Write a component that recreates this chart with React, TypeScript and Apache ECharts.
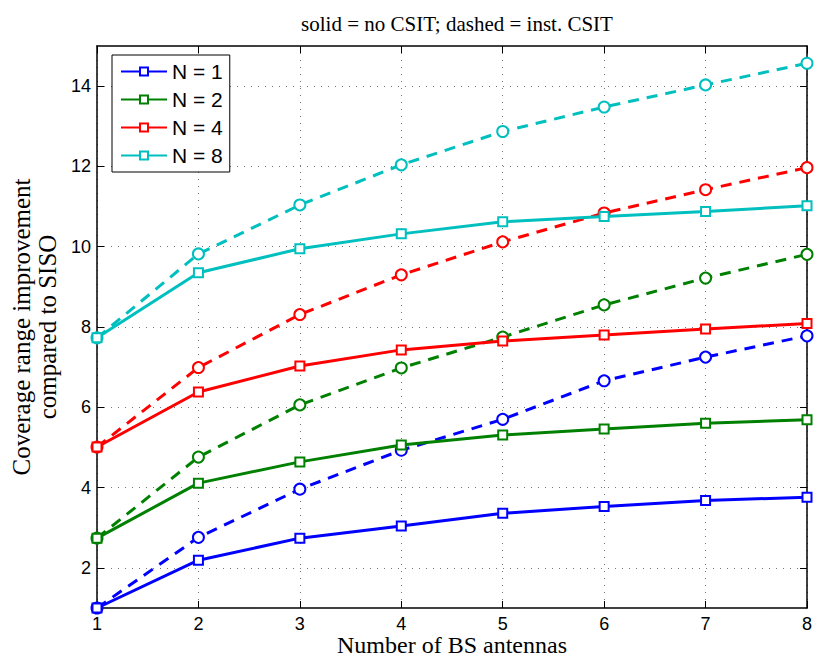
import React, { useEffect, useRef } from "react";
import * as echarts from "echarts";

const antennas = [1, 2, 3, 4, 5, 6, 7, 8];
const yTicks = [2, 4, 6, 8, 10, 12, 14];

const n1NoCsit = [1.0, 2.19, 2.74, 3.04, 3.36, 3.53, 3.68, 3.76];
const n1Inst = [1.0, 2.76, 3.96, 4.93, 5.7, 6.66, 7.25, 7.78];
const n2NoCsit = [2.74, 4.11, 4.64, 5.06, 5.31, 5.46, 5.6, 5.69];
const n2Inst = [2.74, 4.76, 6.06, 6.98, 7.75, 8.55, 9.22, 9.81];
const n4NoCsit = [5.01, 6.38, 7.03, 7.43, 7.65, 7.8, 7.95, 8.09];
const n4Inst = [5.01, 6.99, 8.31, 9.3, 10.12, 10.84, 11.42, 11.97];
const n8NoCsit = [7.73, 9.35, 9.95, 10.32, 10.62, 10.75, 10.88, 11.02];
const n8Inst = [7.73, 9.82, 11.04, 12.04, 12.87, 13.48, 14.03, 14.57];

const names = ["N = 1", "N = 2", "N = 4", "N = 8"];
const colors = ["#0000ff", "#008000", "#ff0000", "#00bfbf"];
const solidData = [n1NoCsit, n2NoCsit, n4NoCsit, n8NoCsit];
const dashedData = [n1Inst, n2Inst, n4Inst, n8Inst];

const serif = "'Liberation Serif', 'Times New Roman', serif";
const sans = "'Liberation Sans', Arial, sans-serif";

export default function App() {
  const ref = useRef<HTMLDivElement>(null);
  useEffect(() => {
    if (!ref.current) return;
    const chart = echarts.init(ref.current, undefined, { renderer: "svg" });
    const pair = (arr: number[]) => antennas.map((x, i) => [x, arr[i]]);
    const series: any[] = [];
    dashedData.forEach((d, i) => {
      series.push({
        name: names[i] + " inst",
        type: "line",
        data: pair(d),
        symbol: "emptyCircle",
        symbolSize: 11,
        color: colors[i],
        lineStyle: { width: 3, type: [11, 8], color: colors[i] },
        itemStyle: { color: colors[i], borderWidth: 2.5 },
        z: 3,
      });
    });
    solidData.forEach((d, i) => {
      series.push({
        name: names[i],
        type: "line",
        data: pair(d),
        symbol: "emptyRect",
        symbolSize: 9,
        color: colors[i],
        lineStyle: { width: 3, color: colors[i] },
        itemStyle: { color: colors[i], borderWidth: 2.5 },
        z: 4,
      });
    });
    const axisLine = { show: true, lineStyle: { color: "#000", width: 1.5 } };
    const grid = { show: true, lineStyle: { color: "#777", type: [1, 6], width: 1 } };
    chart.setOption({
      animation: false,
      title: {
        text: "solid = no CSIT; dashed = inst. CSIT",
        left: 452,
        top: 8,
        textAlign: "center",
        textStyle: { fontFamily: serif, fontSize: 21, fontWeight: "normal", color: "#000" },
      },
      legend: {
        data: names,
        orient: "vertical",
        left: 112,
        top: 55,
        itemWidth: 46,
        itemHeight: 10,
        itemGap: 7,
        padding: [6, 7, 6, 8],
        borderColor: "#000",
        borderWidth: 1,
        backgroundColor: "#fff",
        textStyle: { fontFamily: sans, fontSize: 21, color: "#000" },
      },
      grid: { left: 97, right: 8, top: 46, bottom: 54, outerBoundsMode: "none", containLabel: false },
      xAxis: [
        {
          type: "value",
          min: 1,
          max: 8,
          interval: 1,
          name: "Number of BS antennas",
          nameLocation: "middle",
          nameGap: 25,
          nameMoveOverlap: false,
          nameTextStyle: { fontFamily: serif, fontSize: 24, lineHeight: 24, color: "#000", verticalAlign: "top" },
          axisLine,
          axisTick: { show: true, inside: true, length: 7, lineStyle: { color: "#000" } },
          axisLabel: { fontFamily: sans, fontSize: 18, lineHeight: 18, color: "#000", margin: 7 },
          splitLine: grid,
        },
        {
          type: "value",
          position: "top",
          min: 1,
          max: 8,
          interval: 1,
          axisLine,
          axisTick: { show: true, inside: true, length: 7, lineStyle: { color: "#000" } },
          axisLabel: { show: false },
          splitLine: { show: false },
        },
      ],
      yAxis: [
        {
          type: "value",
          min: 1,
          max: 15,
          name: "Coverage range improvement\ncompared to SISO",
          nameLocation: "middle",
          nameGap: 32,
          nameTextStyle: { fontFamily: serif, fontSize: 25, color: "#000", lineHeight: 26 },
          axisLine,
          axisTick: { show: true, inside: true, length: 7, customValues: yTicks, lineStyle: { color: "#000" } },
          axisLabel: { fontFamily: sans, fontSize: 18, color: "#000", margin: 6, customValues: yTicks },
          splitLine: grid,
        },
        {
          type: "value",
          position: "right",
          min: 1,
          max: 15,
          axisLine,
          axisTick: { show: true, inside: true, length: 7, customValues: yTicks, lineStyle: { color: "#000" } },
          axisLabel: { show: false },
          splitLine: { show: false },
        },
      ],
      series,
    });
    return () => chart.dispose();
  }, []);
  return <div ref={ref} style={{ width: 815, height: 662, position: "absolute", left: 0, top: 0, background: "#fff" }} />;
}
